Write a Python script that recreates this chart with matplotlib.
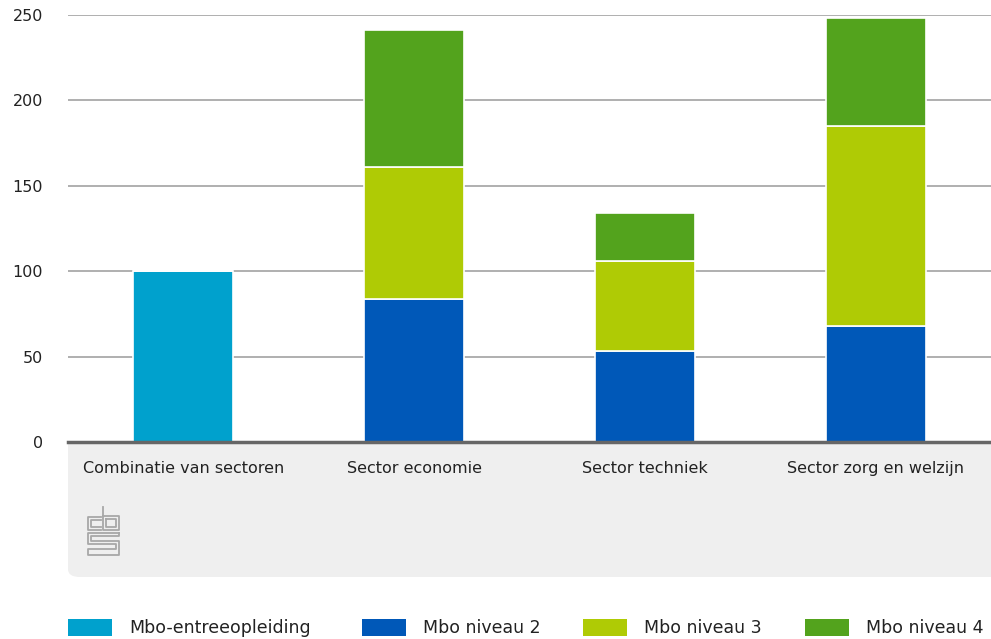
import numpy as np
import matplotlib.pyplot as plt
from matplotlib.patches import FancyBboxPatch, Rectangle
from matplotlib.lines import Line2D

# ---------------- data ----------------
categories = ['Combinatie van sectoren', 'Sector economie', 'Sector techniek', 'Sector zorg en welzijn']
series = ['Mbo-entreeopleiding', 'Mbo niveau 2', 'Mbo niveau 3', 'Mbo niveau 4']
entree = [100, 0, 0, 0]
niveau2 = [0, 84, 53, 68]
niveau3 = [0, 77, 53, 117]
niveau4 = [0, 80, 28, 63]
colors = ['#00A1CD', '#0058B8', '#AFCB05', '#53A31D']

W, H = 991, 639
fig = plt.figure(figsize=(W / 100, H / 100), dpi=100)
fig.patch.set_facecolor('white')

# grey band under the axis (rounded bottom-left corner)
band = FancyBboxPatch((68 / W, (H - 577) / H), 1.2, (577 - 430) / H,
                      boxstyle='round,pad=0,rounding_size=0.012',
                      transform=fig.transFigure, facecolor='#EFEFEF',
                      edgecolor='none', zorder=0)
fig.patches.append(band)

ax = fig.add_axes([68 / W, (H - 442) / H, 1 - 68 / W, (442 - 15) / H])
ax.set_facecolor('white')
ax.set_zorder(1)

x = np.arange(len(categories))
bw = 0.433
bottom = np.zeros(len(categories))
for vals, col in zip([entree, niveau2, niveau3, niveau4], colors):
    v = np.array(vals, dtype=float)
    ax.bar(x, v, bw, bottom=bottom, color=col, edgecolor='white', linewidth=1.2, zorder=3)
    bottom += v

ax.set_xlim(-0.5, len(categories) - 0.5)
ax.set_ylim(0, 250)
ax.set_yticks([0, 50, 100, 150, 200, 250])
ax.yaxis.grid(True, color='#9a9a9a', linewidth=1.1, zorder=0)
ax.set_axisbelow(True)
for s in ['top', 'right', 'left']:
    ax.spines[s].set_visible(False)
ax.spines['bottom'].set_color('#666666')
ax.spines['bottom'].set_linewidth(2.5)
ax.spines['bottom'].set_zorder(4)
ax.tick_params(axis='y', length=0, pad=18, labelsize=11.5, labelcolor='#222222')
ax.tick_params(axis='x', length=0, pad=14, labelcolor='#222222')
ax.set_xticks(x)
ax.set_xticklabels(categories, fontsize=11.5)

# rough cbs logo
def px(xp, yp):
    return [a / W for a in xp], [1 - b / H for b in yp]

logo = [
    ([101, 88, 88, 101], [517, 517, 530, 530]),
    ([101, 91, 91, 101], [520, 520, 527, 527]),
    ([103, 103, 119, 119, 103], [507, 530, 530, 516, 516]),
    ([106, 106, 116, 116, 106], [519, 527, 527, 519, 519]),
    ([119, 88, 88, 116, 116, 88, 88, 119, 119, 91, 91, 119, 119],
     [533, 533, 544, 544, 549, 549, 555, 555, 541, 541, 536, 536, 533]),
]
for xs, ys in logo:
    a, b = px(xs, ys)
    fig.lines.append(Line2D(a, b, transform=fig.transFigure, color='#a8a8a8', linewidth=1.3))

# legend
leg_x = [68, 362, 583, 805]
for lx, lab, col in zip(leg_x, series, colors):
    fig.patches.append(Rectangle((lx / W, (H - 636) / H), 44 / W, 17 / H,
                                 transform=fig.transFigure, facecolor=col, edgecolor='none'))
    fig.text((lx + 61) / W, (H - 628) / H, lab, fontsize=12.5, va='center', ha='left',
             color='#222222')

fig.savefig('out.png', dpi=100)
